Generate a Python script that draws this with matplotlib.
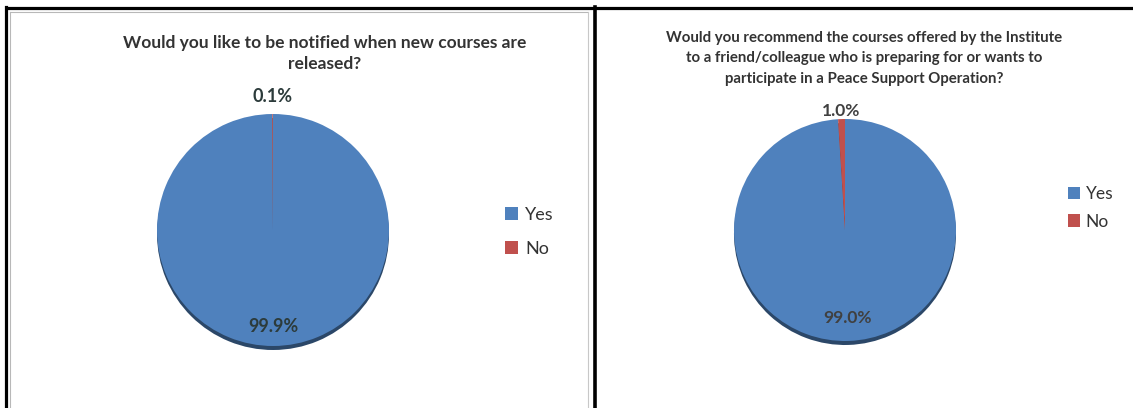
import numpy as np
import matplotlib
matplotlib.use("Agg")
import matplotlib.pyplot as plt
from matplotlib.colors import to_rgb

# data
categories = ["Yes", "No"]
notified = [99.9, 0.1]
recommend = [99.0, 1.0]
title_left = "Would you like to be notified when new courses are\nreleased?"
title_right = ("Would you recommend the courses offered by the Institute\n"
               "to a friend/colleague who is preparing for or wants to\n"
               "participate in a Peace Support Operation?")

colors = ["#4F81BD", "#C0504D"]
W, H = 1133, 408

plt.rcParams["font.family"] = ["Lato", "DejaVu Sans"]
fig = plt.figure(figsize=(W / 100, H / 100), dpi=100)

# background axes in pixel coordinates, for the frames
bg = fig.add_axes([0, 0, 1, 1])
bg.set_xlim(0, W)
bg.set_ylim(H, 0)
bg.axis("off")
bg.plot([5, W], [8, 8], color="black", lw=2.3, solid_capstyle="butt")
bg.plot([6, 6], [7, H], color="black", lw=2.3)
bg.plot([595, 595], [7, H], color="black", lw=2.6)
bg.plot([10, 588], [12, 12], color="#b8b8b8", lw=0.8)
bg.plot([10, 10], [12, H], color="#b8b8b8", lw=0.8)
bg.plot([588, 588], [12, H], color="#c8c8c8", lw=0.8)


def darker(c, f=0.55):
    return tuple(v * f for v in to_rgb(c))


def pie_axes(cx, cy, r):
    return fig.add_axes([(cx - r) / W, (H - cy - r) / H, 2 * r / W, 2 * r / H])


def draw_pie(ax, values, r_px, label_dist, label_colors, fs):
    # side of the 3D disc
    ax.pie(values, colors=[darker(c) for c in colors], startangle=90,
           counterclock=False, center=(0, -4.0 / r_px), radius=1.0)
    wedges, _ = ax.pie(values, colors=colors, startangle=90, counterclock=False,
                       wedgeprops=dict(linewidth=0))
    for w, v, d, col in zip(wedges, values, label_dist, label_colors):
        ang = np.deg2rad((w.theta1 + w.theta2) / 2)
        ax.text(d * np.cos(ang), d * np.sin(ang), f"{v:.1f}%", ha="center",
                va="center", fontsize=fs, fontweight="bold", color=col)
    ax.set_xlim(-1, 1)
    ax.set_ylim(-1, 1)
    ax.set_aspect("equal")
    ax.axis("off")
    return wedges


# left chart
axl = pie_axes(273, 230, 116)
wl = draw_pie(axl, notified, 116, [0.83, 1.15], ["#2c3b3b", "#2c3b3b"], 13)
fig.text(325 / W, 1 - 35 / H, title_left, ha="center", va="top", fontsize=12.5,
         fontweight="bold", color="#333333", linespacing=1.42)
fig.legend(wl, categories, loc="center left", bbox_to_anchor=(489 / W, 1 - 232 / H),
           frameon=False, fontsize=13, handlelength=0.7, handleheight=0.7,
           handletextpad=0.4, labelspacing=1.0, labelcolor="#333333")

# right chart
axr = pie_axes(845, 230, 111)
wr = draw_pie(axr, recommend, 111, [0.79, 1.07], ["#404040", "#404040"], 12.5)
fig.text(864 / W, 1 - 31 / H, title_right, ha="center", va="top", fontsize=10.8,
         fontweight="bold", color="#333333", linespacing=1.58)
fig.legend(wr, categories, loc="center left", bbox_to_anchor=(1052 / W, 1 - 208 / H),
           frameon=False, fontsize=12.5, handlelength=0.7, handleheight=0.7,
           handletextpad=0.35, labelspacing=0.65, labelcolor="#333333")

fig.savefig("out.png", dpi=100)
